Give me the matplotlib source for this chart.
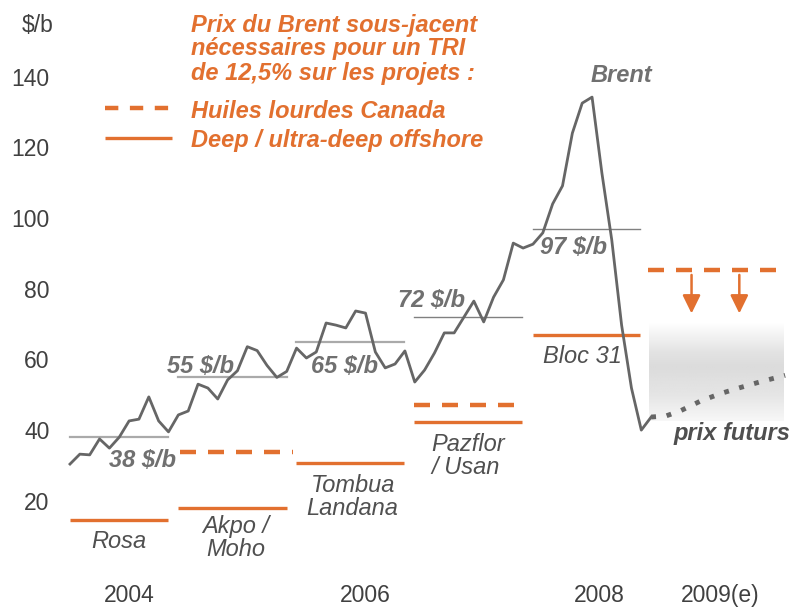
import numpy as np
import matplotlib
matplotlib.use("Agg")
import matplotlib.pyplot as plt

plt.rcParams['font.family'] = ['Liberation Sans', 'DejaVu Sans']

# months counted from January 2004
brent_month = list(range(60))
brent_price = [30.4, 33.2, 33.0, 37.5, 34.9, 38.0, 42.6, 43.1, 49.4, 42.6,
               39.5, 44.3, 45.4, 53.0, 51.9, 48.8, 54.2, 56.8, 63.6, 62.5,
               58.3, 54.9, 56.6, 63.2, 60.4, 62.1, 70.3, 69.7, 68.9, 73.7,
               73.1, 62.1, 57.6, 58.7, 62.4, 53.6, 57.0, 61.8, 67.5, 67.5,
               72.0, 76.5, 70.6, 77.6, 82.5, 92.9, 91.5, 92.6, 95.8, 104.0,
               109.1, 124.0, 132.5, 134.2, 112.7, 93.8, 69.7, 51.9, 40.0, 43.7]

futures_month = [59, 60.5, 62, 64, 66, 68, 70, 72.6]
futures_price = [43.7, 44.0, 45.5, 48.2, 50.3, 52.0, 53.6, 55.5]

# yearly average Brent
avg_start = [0, 11.0, 22.9, 34.9, 47.0]
avg_end = [10.0, 22.0, 33.9, 45.9, 57.9]
avg_value = [38, 55, 65, 72, 97]
avg_label = ["38 $/b", "55 $/b", "65 $/b", "72 $/b", "97 $/b"]

# deep / ultra-deep offshore projects
proj_name = ["Rosa", "Akpo /\nMoho", "Tombua\nLandana", "Pazflor\n/ Usan", "Bloc 31"]
proj_start = [0, 11.0, 22.9, 34.9, 47.0]
proj_end = [10.0, 22.0, 33.9, 45.9, 57.9]
proj_value = [14.6, 17.9, 30.6, 42.4, 66.9]

# heavy oil Canada
canada_start = [11.2, 34.9, 58.7]
canada_end = [22.6, 45.3, 72.6]
canada_value = [33.9, 47.1, 85.3]

year_pos = [6.0, 30.0, 53.7, 66.0]
year_label = ["2004", "2006", "2008", "2009(e)"]
y_ticks = [20, 40, 60, 80, 100, 120, 140]

orange = '#E2702F'
grey_line = '#666666'
txt_grey = '#707070'
dark_txt = '#505050'

fig = plt.figure(figsize=(7.93, 6.09), dpi=100)
ax = fig.add_axes([58 / 793, 29 / 609, 735 / 793, 580 / 609])
ax.set_xlim(-1.218, 73.40)
ax.set_ylim(-2.4, 161.67)
for s in ax.spines.values():
    s.set_visible(False)

ax.set_yticks(y_ticks)
ax.set_yticklabels([str(v) for v in y_ticks])
ax.set_xticks(year_pos)
ax.set_xticklabels(year_label)
ax.tick_params(axis='y', length=0, pad=6, labelsize=16.5, labelcolor='#404040')
ax.tick_params(axis='x', length=0, pad=3.0, labelsize=16.5, labelcolor='#404040')

# grey zone for futures
grad = np.interp(np.linspace(0, 1, 200), [0, 0.3, 0.45, 0.75, 1.0],
                 [1.0, 0.89, 0.86, 0.90, 0.97]).reshape(-1, 1)
ax.imshow(grad, cmap='gray', vmin=0, vmax=1, aspect='auto',
          extent=(58.8, 72.5, 42.5, 70.3), interpolation='bilinear', zorder=1)

# average lines
avg_colors = ['#aaaaaa', '#aaaaaa', '#aaaaaa', '#808080', '#808080']
avg_lw = [1.6, 1.6, 1.6, 1.0, 1.0]
for i in range(len(avg_value)):
    ax.plot([avg_start[i], avg_end[i]], [avg_value[i]] * 2,
            color=avg_colors[i], lw=avg_lw[i], zorder=2)

# project lines
for i in range(len(proj_value)):
    ax.plot([proj_start[i], proj_end[i]], [proj_value[i]] * 2,
            color=orange, lw=2.4, solid_capstyle='butt', zorder=2)
for i in range(len(canada_value)):
    ax.plot([canada_start[i], canada_end[i]], [canada_value[i]] * 2,
            color=orange, lw=3.2, dashes=(3.6, 2.7), zorder=2)

# Brent
ax.plot(brent_month, brent_price, color=grey_line, lw=2.0, zorder=3)
ax.plot(futures_month, futures_price, color=grey_line, lw=3.5,
        linestyle=(0, (1, 2.2)), zorder=3)

for xa in [63.1, 67.95]:
    ax.annotate('', xy=(xa, 73.0), xytext=(xa, 83.9),
                arrowprops=dict(arrowstyle='-|>,head_length=0.55,head_width=0.27',
                                color=orange, lw=1.8, mutation_scale=20,
                                shrinkA=0, shrinkB=0), zorder=4)

# labels of average lines
avg_lab_x = [4.0, 9.8, 24.5, 33.3, 47.7]
avg_lab_y = [29.6, 56.1, 56.1, 74.7, 89.7]
for i in range(len(avg_label)):
    ax.text(avg_lab_x[i], avg_lab_y[i], avg_label[i], fontsize=17,
            fontweight='bold', fontstyle='italic', color=txt_grey,
            va='baseline', ha='left', zorder=5)

# project labels (y = baseline of the last line)
proj_lab_x = [5.0, 16.8, 28.7, 36.7, 48.05]
proj_lab_y = [6.6, 4.4, 16.0, 27.6, 59.1]
proj_ha = ['center', 'center', 'center', 'left', 'left']
for i in range(len(proj_name)):
    ax.text(proj_lab_x[i], proj_lab_y[i], proj_name[i], fontsize=17,
            fontstyle='italic', color=dark_txt, ha=proj_ha[i], va='baseline',
            multialignment=proj_ha[i], linespacing=1.0, zorder=5)

ax.text(52.8, 138.5, "Brent", fontsize=17, fontweight='bold',
        fontstyle='italic', color=txt_grey, va='baseline')
ax.text(61.3, 37.2, "prix futurs", fontsize=17, fontweight='bold',
        fontstyle='italic', color='#4f4f4f', va='baseline', zorder=5)

# legend
title_lines = ["Prix du Brent sous-jacent", "nécessaires pour un TRI",
               "de 12,5% sur les projets :"]
title_y = [152.7, 146.1, 139.0]
for t, yy in zip(title_lines, title_y):
    ax.text(12.28, yy, t, fontsize=17, fontweight='bold', fontstyle='italic',
            color=orange, va='baseline')
ax.plot([3.55, 10.36], [131.1, 131.1], color=orange, lw=3.2, dashes=(3.0, 2.6))
ax.plot([3.55, 10.36], [122.6, 122.6], color=orange, lw=2.4, solid_capstyle='butt')
ax.text(12.28, 128.3, "Huiles lourdes Canada", fontsize=17, fontweight='bold',
        fontstyle='italic', color=orange, va='baseline')
ax.text(12.28, 120.2, "Deep / ultra-deep offshore", fontsize=17, fontweight='bold',
        fontstyle='italic', color=orange, va='baseline')

fig.text(38 / 793, 1 - 25 / 609, "$/b", fontsize=16.5, color='#404040',
         ha='center', va='center')

fig.savefig("out.png", dpi=100)
